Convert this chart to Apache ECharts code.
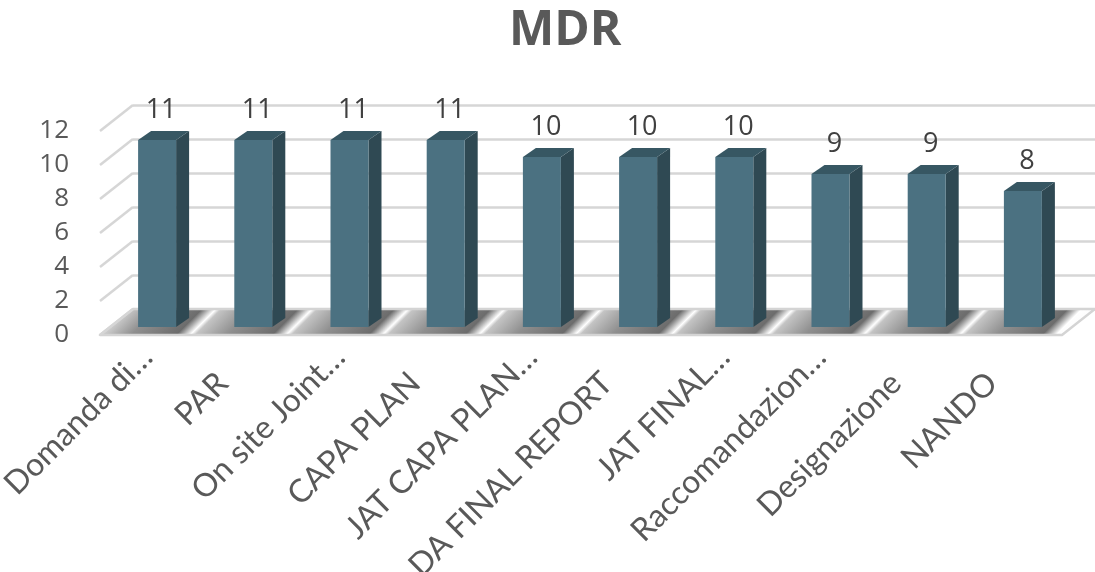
<!DOCTYPE html>
<html>
<head>
<meta charset="utf-8">
<script src="https://cdn.jsdelivr.net/npm/echarts@6/dist/echarts.min.js"></script>
<style>
  html, body { margin: 0; padding: 0; background: #ffffff; }
  #chart { width: 1095px; height: 572px; }
</style>
</head>
<body>
<div id="chart"></div>
<script>
// Categories and counts per MDR step
const categories = ['Domanda di…', 'PAR', 'On site Joint…', 'CAPA PLAN', 'JAT CAPA PLAN…',
  'DA FINAL REPORT', 'JAT FINAL…', 'Raccomandazion…', 'Designazione', 'NANDO'];
const values = [11, 11, 11, 11, 10, 10, 10, 9, 9, 8];
const yMin = 0, yMax = 12, yStep = 2;
const yTicks = [0, 2, 4, 6, 8, 10, 12];

const FONT = 'Open Sans';
const CAT_FONT = 'Lato';
// depth of the box (back wall offset from the front plane) and of each bar
const WALL_DX = 33, WALL_DY = -26;
const BAR_DX = 13, BAR_DY = -9;
const BAR_RATIO = 0.395;

const chart = echarts.init(document.getElementById('chart'), null, { renderer: 'canvas' });

function valueAxis(gridIndex, showLabels, showSplit) {
  return {
    type: 'value', gridIndex, min: yMin, max: yMax, interval: yStep,
    axisLine: { show: false }, axisTick: { show: false },
    axisLabel: showLabels ? { show: true, fontFamily: FONT, fontSize: 26, color: '#595959', margin: 31 } : { show: false },
    splitLine: showSplit ? { show: true, lineStyle: { color: '#d6d6d6', width: 2.5 } } : { show: false }
  };
}

const catText = { fontFamily: CAT_FONT, fontSize: 32, color: '#595959' };
function catAxis(gridIndex, showLabels) {
  return {
    type: 'category', gridIndex, data: categories,
    axisLine: { show: false }, axisTick: { show: false },
    axisLabel: showLabels ? Object.assign({
      show: true, interval: 0, rotate: 45, margin: 35,
      // truncated names end on the tick; full names sit a little further left
      formatter: (name) => name.endsWith('…') ? '{cut|' + name + '}' : '{full|' + name + '}',
      rich: {
        cut: Object.assign({ padding: [0, 0, 28, 0] }, catText),
        full: Object.assign({ padding: [0, 33, 21, 0] }, catText)
      }
    }, catText) : { show: false },
    splitLine: { show: false }
  };
}

// floor with bar shading, built from the category positions
function renderFloor(params, api) {
  const cs = params.coordSys;
  const base = api.coord([0, 0])[1];
  const frontY = base + 8, frontL = cs.x - 9, frontR = cs.x + cs.width - 9;
  const backY = frontY + WALL_DY, backL = frontL + WALL_DX, backR = frontR + WALL_DX;
  const halfW = api.size([1, 0])[0] * BAR_RATIO / 2;
  const D = (backR - frontL) / 2 + 20;
  const midY = base - 5;
  // gradient runs along (1,1): position depends on x + y, giving diagonal streaks
  const t = (x) => Math.min(1, Math.max(0, ((x - frontL) + (midY - frontY)) / (2 * D)));
  const stops = [{ offset: 0, color: '#eeeeee' }];
  for (let i = 0; i < categories.length; i++) {
    const cx = api.coord([i, 0])[0];
    const xl = cx - halfW, xr = cx + halfW + BAR_DX;
    stops.push({ offset: t(xl - 26), color: i === 0 ? '#d2d2d2' : '#c4c4c4' });
    stops.push({ offset: t(xl + 6), color: '#8f8f8f' });
    stops.push({ offset: t(xr), color: '#6c6c6c' });
    stops.push({ offset: t(xr + 14), color: '#ffffff' });
  }
  stops.push({ offset: 1, color: '#ececec' });
  stops.sort((a, b) => a.offset - b.offset);
  return {
    type: 'polygon',
    shape: { points: [[frontL, frontY], [frontR, frontY], [backR, backY], [backL, backY]] },
    style: {
      fill: new echarts.graphic.LinearGradient(frontL, frontY, frontL + D, frontY + D, stops, true),
      stroke: '#d4d4d4', lineWidth: 2.5, lineJoin: 'round'
    }
  };
}

// side wall lines joining the front tick positions to the back wall
function renderSideWall(params, api) {
  const cs = params.coordSys;
  const y = api.coord([0, api.value(0)])[1];
  return {
    type: 'line',
    shape: { x1: cs.x, y1: y, x2: cs.x + WALL_DX, y2: y + WALL_DY },
    style: { stroke: '#d6d6d6', lineWidth: 2.5 }
  };
}

// 3D bars with value labels
function renderBar(params, api) {
  const idx = api.value(0), val = api.value(1);
  const p0 = api.coord([idx, 0]);
  const p1 = api.coord([idx, val]);
  const w = api.size([1, 0])[0] * BAR_RATIO;
  const xl = p0[0] - w / 2, xr = p0[0] + w / 2;
  const yt = p1[1], yb = p0[1];
  return {
    type: 'group',
    children: [
      { type: 'polygon', shape: { points: [[xr, yt], [xr + BAR_DX, yt + BAR_DY], [xr + BAR_DX, yb + BAR_DY], [xr, yb]] },
        style: { fill: '#2f4953' } },
      { type: 'polygon', shape: { points: [[xl, yt], [xl + BAR_DX, yt + BAR_DY], [xr + BAR_DX, yt + BAR_DY], [xr, yt]] },
        style: { fill: '#375763' } },
      { type: 'rect', shape: { x: xl, y: yt, width: w, height: yb - yt },
        style: { fill: '#4b7181' } },
      { type: 'text', x: p0[0] + 4, y: yt - 30,
        style: { text: String(val), fontFamily: FONT, fontSize: 27, fill: '#404040', align: 'center', verticalAlign: 'middle' } }
    ]
  };
}

chart.setOption({
  animation: false,
  backgroundColor: '#ffffff',
  title: {
    text: 'MDR', left: 504, top: 2,
    textStyle: { fontFamily: FONT, fontWeight: 'bold', fontSize: 48, color: '#595959' }
  },
  grid: [
    { left: 109, top: 123, width: 962, height: 204, outerBoundsMode: 'none' },  // bars
    { left: 100, top: 131, width: 962, height: 204, outerBoundsMode: 'none' },  // front plane (tick labels, side wall)
    { left: 133, top: 105, width: 962, height: 204, outerBoundsMode: 'none' }   // back wall
  ],
  xAxis: [catAxis(0, true), catAxis(1, false), catAxis(2, false)],
  yAxis: [valueAxis(0, false, false), valueAxis(1, true, false), valueAxis(2, false, true)],
  series: [
    { type: 'custom', xAxisIndex: 0, yAxisIndex: 0, z: 1, data: [[0, 0]], renderItem: renderFloor, silent: true },
    { type: 'custom', xAxisIndex: 1, yAxisIndex: 1, z: 1, data: yTicks.map(v => [v]),
      encode: { y: 0 }, renderItem: renderSideWall, silent: true },
    { type: 'custom', xAxisIndex: 0, yAxisIndex: 0, z: 3,
      data: values.map((v, i) => [i, v]), encode: { x: 0, y: 1 }, renderItem: renderBar }
  ]
});
</script>
</body>
</html>
